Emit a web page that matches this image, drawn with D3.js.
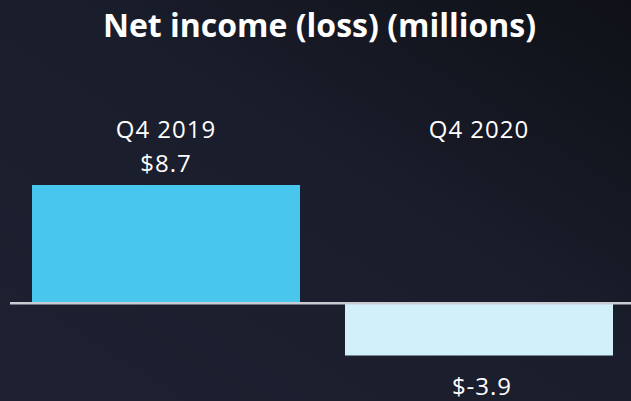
<!DOCTYPE html>
<html>
<head>
<meta charset="utf-8">
<script src="https://cdn.jsdelivr.net/npm/d3@7"></script>
<style>
  html, body { margin: 0; padding: 0; background: #161925; }
  svg { display: block; }
</style>
</head>
<body>
<div class="vis-container"></div>
<script>
// data
const categories = ["Q4 2019", "Q4 2020"];
const values = [8.7, -3.9];
const valueLabels = ["$8.7", "$-3.9"];
const barColors = ["#48c6ee", "#d1f0fa"];
const title = "Net income (loss) (millions)";

// svg area
const width = 631;
const height = 401;

const svg = d3
  .select(".vis-container")
  .append("svg")
  .attr("width", width)
  .attr("height", height);

// background gradient
const defs = svg.append("defs");
const grad = defs
  .append("linearGradient")
  .attr("id", "bg")
  .attr("x1", "0%")
  .attr("y1", "100%")
  .attr("x2", "100%")
  .attr("y2", "0%");
grad.append("stop").attr("offset", "0%").attr("stop-color", "#1e2131");
grad.append("stop").attr("offset", "55%").attr("stop-color", "#1a1d2b");
grad.append("stop").attr("offset", "100%").attr("stop-color", "#0f1117");

svg
  .append("rect")
  .attr("width", width)
  .attr("height", height)
  .attr("fill", "url(#bg)");

// scales
const xScale = d3
  .scaleBand()
  .domain(categories)
  .range([32, 613])
  .paddingInner(0.1438)
  .paddingOuter(0);

const yScale = d3.scaleLinear().domain([-3.9, 8.7]).range([355.5, 185]);

// title
svg
  .append("text")
  .attr("x", width / 2 + 4)
  .attr("y", 37)
  .attr("text-anchor", "middle")
  .attr("fill", "#ffffff")
  .style("font-family", "'Open Sans', 'Noto Sans', sans-serif")
  .style("font-weight", "700")
  .style("font-size", "32px")
  .text(title);

// bars
svg
  .selectAll(".bar")
  .data(values)
  .enter()
  .append("rect")
  .attr("class", "bar")
  .attr("x", (d, i) => xScale(categories[i]))
  .attr("width", xScale.bandwidth())
  .attr("y", (d) => yScale(Math.max(0, d)))
  .attr("height", (d) => Math.abs(yScale(d) - yScale(0)))
  .attr("fill", (d, i) => barColors[i]);

// baseline
svg
  .append("line")
  .attr("x1", 10)
  .attr("x2", width)
  .attr("y1", yScale(0) + 0.5)
  .attr("y2", yScale(0) + 0.5)
  .attr("stroke", "#c9ccd2")
  .attr("stroke-width", 2.5);

// category labels
svg
  .selectAll(".cat-label")
  .data(categories)
  .enter()
  .append("text")
  .attr("class", "cat-label")
  .attr("x", (d) => xScale(d) + xScale.bandwidth() / 2)
  .attr("y", 138)
  .attr("text-anchor", "middle")
  .attr("fill", "#ffffff")
  .style("font-family", "'Open Sans', sans-serif")
  .style("font-size", "24px")
  .style("letter-spacing", "1px")
  .text((d) => d);

// value labels
svg
  .selectAll(".val-label")
  .data(values)
  .enter()
  .append("text")
  .attr("class", "val-label")
  .attr("x", (d, i) => xScale(categories[i]) + xScale.bandwidth() / 2 + (d < 0 ? 3 : 0))
  .attr("y", (d) => (d >= 0 ? yScale(d) - 13 : yScale(d) + 39))
  .attr("text-anchor", "middle")
  .attr("fill", "#ffffff")
  .style("font-family", "'Open Sans', sans-serif")
  .style("font-size", "24px")
  .style("letter-spacing", "1px")
  .text((d, i) => valueLabels[i]);
</script>
</body>
</html>
